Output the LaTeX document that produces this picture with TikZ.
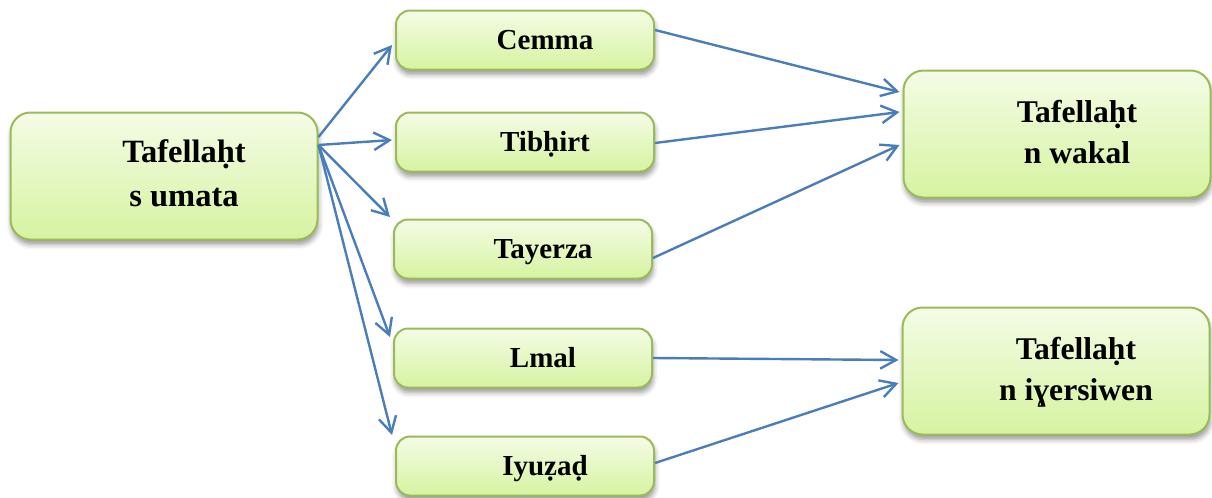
\documentclass[tikz,border=0pt]{standalone}
\usepackage{fontspec}
\setmainfont{Liberation Serif}
\usetikzlibrary{arrows.meta,shadows.blur}
\newlength{\du}
\setlength{\du}{0.02cm}
\definecolor{dialinecolor}{RGB}{74,126,187}
\definecolor{diaboxcolor}{RGB}{155,187,89}
\definecolor{diatopcolor}{RGB}{244,252,230}
\definecolor{diabotcolor}{RGB}{214,243,160}
\newcommand{\diatext}[1]{\hspace*{40\du}\begin{tabular}{@{}c@{}}\rule{0pt}{30\du}#1\end{tabular}}
\tikzset{
  diabox/.style={draw=diaboxcolor, line width=2\du, rounded corners=14\du,
    top color=diatopcolor, bottom color=diabotcolor,
    blur shadow={shadow xshift=1\du, shadow yshift=-5\du, shadow blur radius=5\du, shadow opacity=40},
    inner sep=0pt,
    minimum width=258\du, minimum height=59\du,
    font=\bfseries\fontsize{16.5}{20}\selectfont},
  diabigbox/.style={diabox, rounded corners=20\du,
    minimum width=307\du, minimum height=127\du,
    font=\bfseries\fontsize{18}{22.8}\selectfont},
  dialink/.style={draw=dialinecolor, line width=2.4\du,
    -{Straight Barb[length=9pt,width=10pt]}}
}
\begin{document}
\begin{tikzpicture}
\useasboundingbox (0,0) rectangle (1212\du,-497\du);
% boxes
\node[diabigbox, font=\bfseries\fontsize{18.5}{25}\selectfont] (umata) at (164\du,-176\du) {\diatext{Tafellaḥt\\s umata}};
\node[diabox] (cemma) at (525\du,-40\du) {\diatext{Cemma}};
\node[diabox] (tibhirt) at (525\du,-142\du) {\diatext{Tibḥirt}};
\node[diabox] (tayerza) at (523\du,-249\du) {\diatext{Tayerza}};
\node[diabox] (lmal) at (523\du,-358\du) {\diatext{Lmal}};
\node[diabox] (iyuzad) at (525\du,-466\du) {\diatext{Iyuẓaḍ}};
\node[diabigbox] (wakal) at (1057\du,-134\du) {\diatext{Tafellaḥt\\n wakal}};
\node[diabigbox] (iyersiwen) at (1056\du,-371\du) {\diatext{Tafellaḥt\\n iɣersiwen}};
% left links
\draw[dialink] ([yshift=39\du]umata.east) -- ([xshift=-3\du,yshift=-5\du]cemma.west);
\draw[dialink] ([yshift=31\du]umata.east) -- ([xshift=-3\du,yshift=2\du]tibhirt.west);
\draw[dialink] ([yshift=31\du]umata.east) -- ([xshift=-3\du,yshift=32\du]tayerza.west);
\draw[dialink] ([yshift=31\du]umata.east) -- ([xshift=-3\du,yshift=21\du]lmal.west);
\draw[dialink] ([yshift=31\du]umata.east) -- ([xshift=-3\du,yshift=31\du]iyuzad.west);
% right links
\draw[dialink] ([yshift=10\du]cemma.east) -- ([xshift=-3\du,yshift=42\du]wakal.west);
\draw[dialink] ([yshift=-1\du]tibhirt.east) -- ([xshift=-3\du,yshift=22\du]wakal.west);
\draw[dialink] ([yshift=-9\du]tayerza.east) -- ([xshift=-3\du,yshift=-11\du]wakal.west);
\draw[dialink] (lmal.east) -- ([xshift=-3\du,yshift=11\du]iyersiwen.west);
\draw[dialink] ([yshift=3\du]iyuzad.east) -- ([xshift=-3\du,yshift=-12\du]iyersiwen.west);
\end{tikzpicture}
\end{document}
